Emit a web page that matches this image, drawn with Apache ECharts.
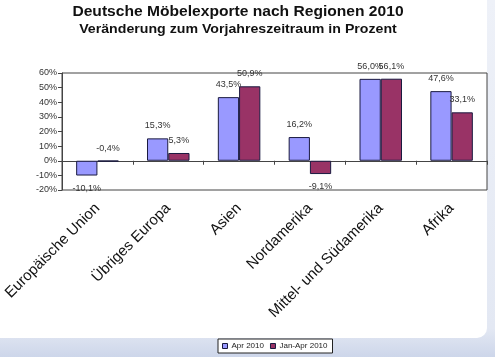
<!DOCTYPE html>
<html><head><meta charset="utf-8">
<script src="https://cdn.jsdelivr.net/npm/echarts@6/dist/echarts.min.js"></script>
<style>html,body{margin:0;padding:0;background:#fff}#c{width:495px;height:357px}</style>
</head><body><div id="c"></div>
<script>
const categories = ['Europäische Union', 'Übriges Europa', 'Asien', 'Nordamerika', 'Mittel- und Südamerika', 'Afrika'];
const seriesNames = ['Apr 2010', 'Jan-Apr 2010'];
const apr2010 = [-10.1, 15.3, 43.5, 16.2, 56.0, 47.6];
const janApr2010 = [-0.4, 5.3, 50.9, -9.1, 56.1, 33.1];
const yTicks = [-20, -10, 0, 10, 20, 30, 40, 50, 60];
const titleText = 'Deutsche Möbelexporte nach Regionen 2010';
const subtitleText = 'Veränderung zum Vorjahreszeitraum in Prozent';

const fmt = v => v.toFixed(1).replace('.', ',') + '%';
function items(arr, topForSmallNeg) {
  return arr.map(v => ({
    value: v,
    label: { position: (v >= 0 || (topForSmallNeg && v > -1)) ? 'top' : 'bottom' }
  }));
}
const chart = echarts.init(document.getElementById('c'), null, {renderer: 'canvas'});
chart.setOption({
  animation: false,
  backgroundColor: '#ffffff',
  graphic: [
    { type: 'rect', z: -10, shape: { x: 0, y: 0, width: 495, height: 357 },
      style: { fill: new echarts.graphic.LinearGradient(0, 0, 0, 1, [
        { offset: 0, color: '#eef1f8' }, { offset: 0.92, color: '#e3e8f3' }, { offset: 1, color: '#cdd6ea' }]) } },
    { type: 'rect', z: -9, shape: { x: 0, y: 0, width: 487, height: 338, r: [0, 0, 10, 0] },
      style: { fill: '#ffffff' } },
    { type: 'text', x: 238, y: 12, scaleX: 1.04,
      style: { text: titleText, x: 0, y: 0, align: 'center', verticalAlign: 'middle',
        font: 'bold 15px "Liberation Sans", Arial', fill: '#111' } },
    { type: 'text', x: 238, y: 30, scaleX: 1.18,
      style: { text: subtitleText, x: 0, y: 0, align: 'center', verticalAlign: 'middle',
        font: 'bold 12px "Liberation Sans", Arial', fill: '#111' } }
  ],
  legend: {
    data: seriesNames, left: 218, top: 339,
    backgroundColor: '#fff', borderColor: '#222', borderWidth: 1,
    padding: [3, 5, 3, 4], itemWidth: 5, itemHeight: 5, itemGap: 6,
    icon: 'rect',
    itemStyle: { borderColor: '#1a1a40', borderWidth: 1 },
    textStyle: { fontFamily: 'Liberation Sans, Arial', fontSize: 8, color: '#222', padding: [0, 0, 0, -1] }
  },
  grid: { left: 62, right: 8, top: 73, bottom: 167, show: true, borderColor: '#444', borderWidth: 1, backgroundColor: 'transparent' },
  xAxis: [{
    type: 'category', data: categories, position: 'bottom',
    axisLine: { onZero: true, lineStyle: { color: '#444', width: 1 } },
    axisTick: { show: true, inside: false, length: 4, interval: 0, lineStyle: { color: '#444' } },
    axisLabel: { show: false, interval: 0 }
  }, {
    type: 'category', data: categories, position: 'bottom',
    axisLine: { show: false, onZero: false }, axisTick: { show: false },
    axisLabel: { rotate: 45, margin: 16, interval: 0,
      fontFamily: 'Liberation Sans, Arial', fontSize: 15, color: '#111' }
  }],
  yAxis: {
    type: 'value', min: -20, max: 60, interval: 10,
    axisLine: { show: true, lineStyle: { color: '#444' } },
    axisTick: { show: true, length: 4, lineStyle: { color: '#444' } },
    splitLine: { show: false },
    axisLabel: { formatter: v => v + '%', fontFamily: 'Liberation Sans, Arial', fontSize: 9, color: '#333', margin: 5 }
  },
  series: [{
    name: seriesNames[0], type: 'bar', xAxisIndex: 0, data: items(apr2010, false),
    barGap: '0%', barCategoryGap: '40%',
    itemStyle: { color: '#9999ff', borderColor: '#1a1a40', borderWidth: 1 },
    label: { show: true, distance: 8, formatter: p => fmt(p.value), fontFamily: 'Liberation Sans, Arial', fontSize: 9, color: '#333' }
  }, {
    name: seriesNames[1], type: 'bar', xAxisIndex: 0, data: items(janApr2010, true),
    barGap: '0%', barCategoryGap: '40%',
    itemStyle: { color: '#993366', borderColor: '#1a1a40', borderWidth: 1 },
    label: { show: true, distance: 8, formatter: p => fmt(p.value), fontFamily: 'Liberation Sans, Arial', fontSize: 9, color: '#333' }
  }]
});
</script></body></html>
